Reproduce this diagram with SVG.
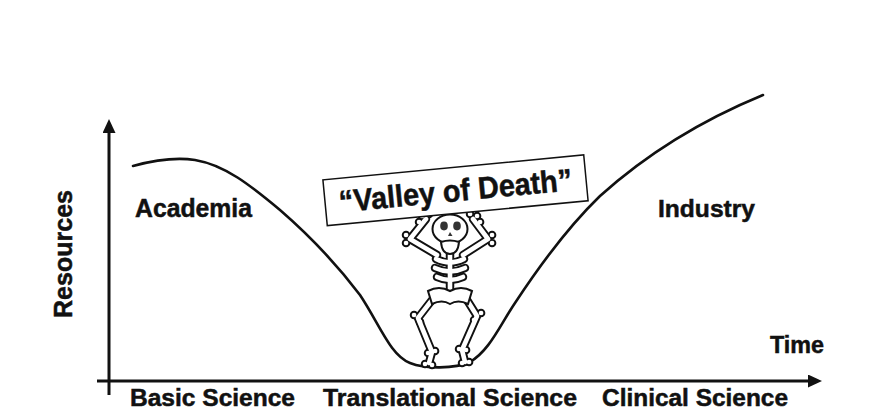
<svg xmlns="http://www.w3.org/2000/svg" xmlns:xlink="http://www.w3.org/1999/xlink" width="894" height="416" viewBox="0 0 894 416">
<style>
.t{font-family:"Liberation Sans",Arial,sans-serif;font-weight:bold;fill:#111;stroke:#111;stroke-width:0.5}
.axis{stroke:#111;stroke-width:3;fill:none}
.curve{stroke:#111;stroke-width:2.6;fill:none;stroke-linecap:round}
.bo{stroke:#111;stroke-width:8.5;fill:none;stroke-linecap:round;stroke-linejoin:round}
.bi{stroke:#fff;stroke-width:4.6;fill:none;stroke-linecap:round;stroke-linejoin:round}
.out{fill:#fff;stroke:#111;stroke-width:2}
</style>
<defs>
<marker id="arr" markerUnits="userSpaceOnUse" markerWidth="16" markerHeight="14" refX="2" refY="6.5" orient="auto">
<path d="M0,0 L14,6.5 L0,13 Z" fill="#111"/>
</marker>
<g id="bones">
<path d="M437,255 L410,239 L426,219"/>
<path d="M463,255 L488,239 L473,219"/>
<path d="M406,235 h0.1 M406,243 h0.1 M422,216 h0.1 M429,214 h0.1 M419,222 h0.1 M492,235 h0.1 M492,243 h0.1 M477,216 h0.1 M470,214 h0.1 M480,222 h0.1"/>
<path d="M450,253 L450,290"/>
<path d="M436,259 Q450,266 464,259"/>
<path d="M435,268 Q450,275 465,268"/>
<path d="M437,277 Q450,283 463,277"/>
<path d="M432,300 L418,318 L432,352 L429,363"/>
<path d="M467,300 L477,316 L462,350 L465,362"/>
<path d="M414,315 h0.1 M420,322 h0.1 M481,313 h0.1 M474,320 h0.1 M428,353 h0.1 M435,351 h0.1 M459,349 h0.1 M466,350 h0.1 M425,364 h0.1 M432,365 h0.1 M462,363 h0.1 M469,362 h0.1"/>
</g>
</defs>

<g id="axes">
<line class="axis" x1="109" y1="395" x2="109" y2="131" marker-end="url(#arr)"/>
<line class="axis" x1="97" y1="381" x2="810" y2="381" marker-end="url(#arr)"/>
</g>

<g id="curve">
<path class="curve" d="M133,166 C155,160 175,157 195,160 C225,165 250,185 280,210 C310,236 335,262 360,295 C380,325 390,355 410,363 C425,369 455,369 470,362 C490,350 500,325 515,303 C540,265 570,225 600,196 C640,160 690,125 763,95"/>
</g>

<g id="skeleton">
<use xlink:href="#bones" class="bo"/>
<use xlink:href="#bones" class="bi"/>
<path class="out" d="M428,291 Q439,285 450,291 Q461,285 472,291 L468,304 Q458,299 450,304 Q442,299 432,304 Z"/>
<ellipse class="out" cx="450" cy="229" rx="17.5" ry="14.5"/>
<ellipse cx="444" cy="226" rx="3.8" ry="4.4" fill="#333"/>
<ellipse cx="457" cy="226" rx="3.8" ry="4.4" fill="#333"/>
<path d="M450,232 L452.5,236 L448,236 Z" fill="#333"/>
<path class="out" d="M441,242 Q450,239 459,242 Q458,254 450,254 Q442,254 441,242 Z"/>
</g>

<g id="sign" transform="translate(455.5,190.3) rotate(-5.47)">
<rect x="-131" y="-23" width="262" height="46" fill="#fff" stroke="#111" stroke-width="1.5"/>
<text class="t" x="0" y="11" font-size="31" text-anchor="middle" textLength="234" lengthAdjust="spacingAndGlyphs">“Valley of Death”</text>
</g>

<g id="labels">
<text class="t" transform="translate(72,254) rotate(-90)" font-size="26" text-anchor="middle" textLength="128" lengthAdjust="spacingAndGlyphs">Resources</text>
<text class="t" x="135" y="217" font-size="25" textLength="117" lengthAdjust="spacingAndGlyphs">Academia</text>
<text class="t" x="658" y="217" font-size="24.5" textLength="97" lengthAdjust="spacingAndGlyphs">Industry</text>
<text class="t" x="770" y="353" font-size="23.5" textLength="54" lengthAdjust="spacingAndGlyphs">Time</text>
<text class="t" x="130" y="406" font-size="23.5" textLength="165" lengthAdjust="spacingAndGlyphs">Basic Science</text>
<text class="t" x="323" y="406" font-size="23.5" textLength="254" lengthAdjust="spacingAndGlyphs">Translational Science</text>
<text class="t" x="602" y="406" font-size="23.5" textLength="186" lengthAdjust="spacingAndGlyphs">Clinical Science</text>
</g>
</svg>
